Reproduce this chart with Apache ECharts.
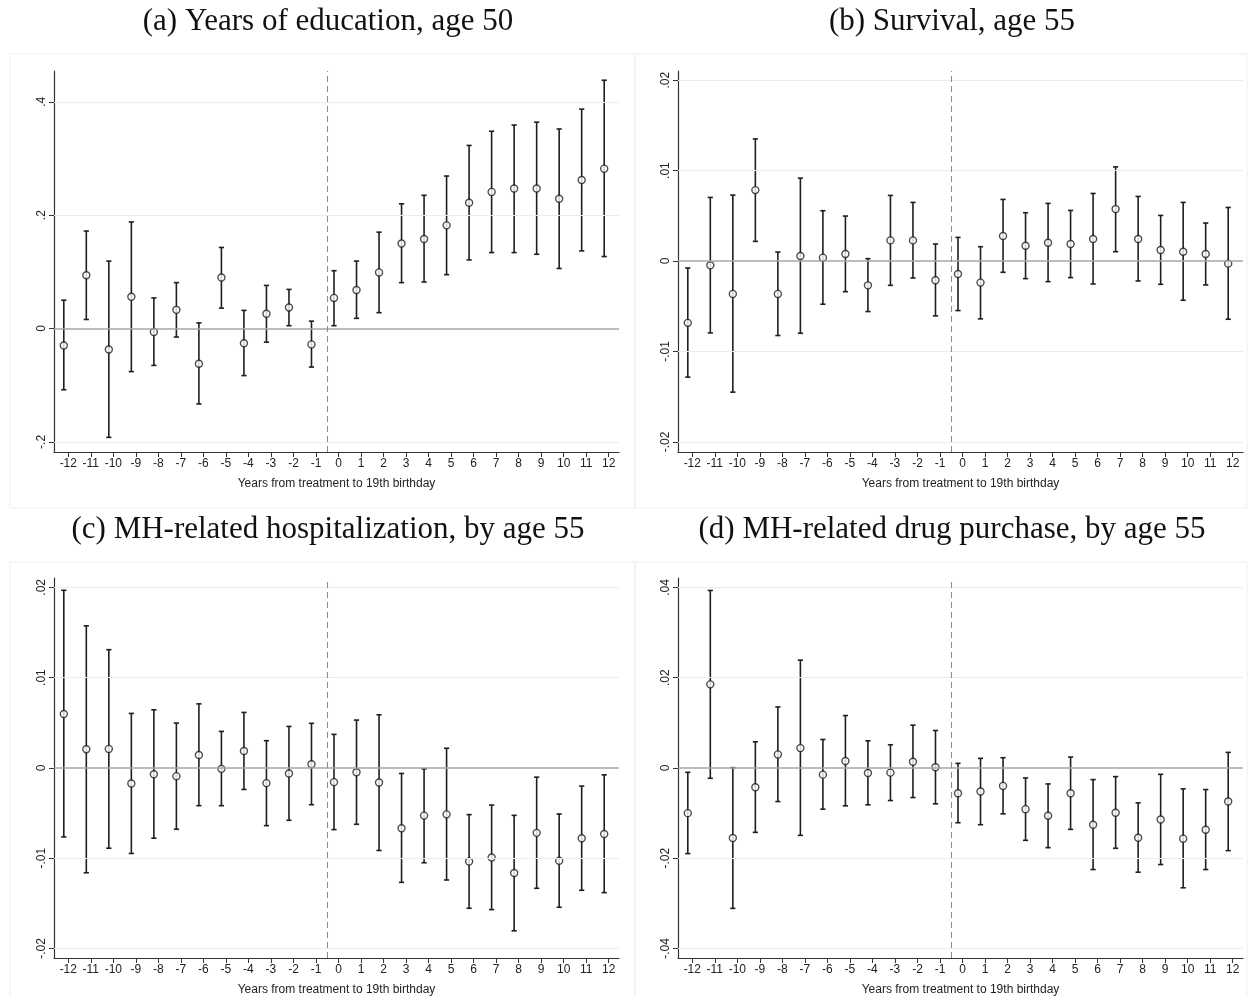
<!DOCTYPE html>
<html>
<head>
<meta charset="utf-8">
<script src="https://cdn.jsdelivr.net/npm/echarts@6/dist/echarts.min.js"></script>
<style>
  html, body { margin: 0; padding: 0; background: #fff; }
  #main { width: 1248px; height: 997px; }
</style>
</head>
<body>
<div id="main"></div>
<script>
// years relative to treatment
const years = [-12, -11, -10, -9, -8, -7, -6, -5, -4, -3, -2, -1, 0, 1, 2, 3, 4, 5, 6, 7, 8, 9, 10, 11, 12];

// (a) years of education, age 50
const eduCoef = [-0.030, 0.094, -0.037, 0.056, -0.006, 0.033, -0.062, 0.090, -0.026, 0.026, 0.037, -0.028,
  0.054, 0.068, 0.099, 0.150, 0.158, 0.182, 0.222, 0.241, 0.247, 0.247, 0.229, 0.262, 0.282];
const eduLo = [-0.108, 0.016, -0.192, -0.076, -0.065, -0.015, -0.133, 0.036, -0.083, -0.024, 0.005, -0.068,
  0.005, 0.018, 0.028, 0.081, 0.082, 0.095, 0.121, 0.134, 0.134, 0.131, 0.106, 0.137, 0.127];
const eduHi = [0.050, 0.172, 0.119, 0.188, 0.054, 0.081, 0.010, 0.143, 0.032, 0.076, 0.069, 0.013,
  0.102, 0.119, 0.170, 0.220, 0.235, 0.269, 0.323, 0.348, 0.359, 0.364, 0.352, 0.387, 0.438];

// (b) survival, age 55
const survCoef = [-0.00684, -0.00048, -0.00364, 0.00784, -0.00364, 0.00055, 0.00037, 0.00077, -0.00269, 0.00228, 0.00228, -0.00213,
  -0.00144, -0.00239, 0.00276, 0.00169, 0.00202, 0.00188, 0.00243, 0.00574, 0.00243, 0.00121, 0.00103, 0.00077, -0.00029];
const survLo = [-0.01284, -0.00795, -0.0145, 0.00217, -0.00824, -0.00799, -0.00478, -0.00339, -0.00559, -0.00269, -0.00188, -0.00607,
  -0.00548, -0.0064, -0.00125, -0.00195, -0.00228, -0.00184, -0.00254, 0.00103, -0.00221, -0.00258, -0.00434, -0.00265, -0.00644];
const survHi = [-0.00077, 0.00703, 0.00729, 0.0135, 0.00099, 0.00916, 0.00556, 0.00497, 0.00026, 0.00725, 0.00648, 0.00188,
  0.00261, 0.00158, 0.00681, 0.00534, 0.00637, 0.00559, 0.00747, 0.01041, 0.00714, 0.00504, 0.00648, 0.0042, 0.00592];

// (c) MH-related hospitalization, by age 55
const hospCoef = [0.00596, 0.00206, 0.00210, -0.00173, -0.0007, -0.00092, 0.00143, -0.00011, 0.00187, -0.00169, -0.00062, 0.0004,
  -0.00158, -0.00048, -0.00162, -0.00669, -0.00529, -0.00515, -0.01037, -0.00993, -0.01165, -0.0072, -0.01029, -0.00779, -0.00732];
const hospLo = [-0.00765, -0.01162, -0.0089, -0.00948, -0.00779, -0.0068, -0.00419, -0.00419, -0.00239, -0.0064, -0.00581, -0.00408,
  -0.00684, -0.00625, -0.00915, -0.01268, -0.01051, -0.01242, -0.01555, -0.0157, -0.01805, -0.01334, -0.01544, -0.01356, -0.01382];
const hospHi = [0.01967, 0.01573, 0.01309, 0.00603, 0.00643, 0.00496, 0.00709, 0.00404, 0.00614, 0.00301, 0.00459, 0.00493,
  0.00371, 0.00529, 0.00588, -0.00062, -0.00011, 0.00217, -0.00518, -0.00412, -0.00526, -0.00103, -0.00511, -0.00202, -0.00077];

// (d) MH-related drug purchase, by age 55
const drugCoef = [-0.0100, 0.01853, -0.01551, -0.00426, 0.00301, 0.00441, -0.00147, 0.00154, -0.0011, -0.00103, 0.0014, 0.00015,
  -0.00559, -0.00522, -0.00397, -0.00912, -0.01059, -0.00559, -0.01257, -0.00993, -0.01544, -0.0114, -0.01566, -0.01368, -0.00743];
const drugLo = [-0.01897, -0.00228, -0.0311, -0.01426, -0.00743, -0.01493, -0.00912, -0.00838, -0.00816, -0.00721, -0.00654, -0.00794,
  -0.01213, -0.01257, -0.01015, -0.01603, -0.01765, -0.0136, -0.0225, -0.01779, -0.02309, -0.0214, -0.02654, -0.0225, -0.01831];
const drugHi = [-0.00096, 0.03934, 0.00007, 0.00581, 0.01353, 0.0239, 0.00632, 0.01162, 0.00603, 0.00515, 0.00949, 0.00831,
  0.00103, 0.00213, 0.00228, -0.00221, -0.00353, 0.00243, -0.00257, -0.00191, -0.00772, -0.0014, -0.00463, -0.00478, 0.00346];

// y tick labels
const eduTicks = [-0.2, 0, 0.2, 0.4];
const survTicks = [-0.02, -0.01, 0, 0.01, 0.02];
const hospTicks = [-0.02, -0.01, 0, 0.01, 0.02];
const drugTicks = [-0.04, -0.02, 0, 0.02, 0.04];

const titles = ['(a) Years of education, age 50', '(b) Survival, age 55',
  '(c) MH-related hospitalization, by age 55', '(d) MH-related drug purchase, by age 55'];
const xName = 'Years from treatment to 19th birthday';

const panels = [
  { coef: eduCoef, lo: eduLo, hi: eduHi, ticks: eduTicks, min: -0.2178, max: 0.4543 },
  { coef: survCoef, lo: survLo, hi: survHi, ticks: survTicks, min: -0.02112, max: 0.02101 },
  { coef: hospCoef, lo: hospLo, hi: hospHi, ticks: hospTicks, min: -0.02106, max: 0.02103 },
  { coef: drugCoef, lo: drugLo, hi: drugHi, ticks: drugTicks, min: -0.0421, max: 0.0421 }
];

const chart = echarts.init(document.getElementById('main'));

const gridPos = [
  { left: 54, top: 71, width: 565, height: 381 },
  { left: 678, top: 71, width: 565, height: 381 },
  { left: 54, top: 578, width: 565, height: 382 },
  { left: 678, top: 578, width: 565, height: 382 }
];
const titlePos = [[323, 1], [947, 1], [323, 509], [947, 509]];
const shift = -0.2; // markers sit a bit left of each tick

const stataFmt = v => String(v).replace(/^(-?)0\./, '$1.');

function renderBar(params, api) {
  const x = api.value(0);
  const pLo = api.coord([x, api.value(1)]);
  const pHi = api.coord([x, api.value(2)]);
  const w = 2.6;
  const st = { stroke: '#1e1e1e', lineWidth: 1.6 };
  return {
    type: 'group',
    children: [
      { type: 'line', shape: { x1: pLo[0], y1: pLo[1], x2: pHi[0], y2: pHi[1] }, style: st },
      { type: 'line', shape: { x1: pLo[0] - w, y1: pLo[1], x2: pLo[0] + w, y2: pLo[1] }, style: st },
      { type: 'line', shape: { x1: pHi[0] - w, y1: pHi[1], x2: pHi[0] + w, y2: pHi[1] }, style: st }
    ]
  };
}

const grid = [], xAxis = [], yAxis = [], series = [], title = [];

panels.forEach((p, i) => {
  grid.push(gridPos[i]);
  title.push({
    text: titles[i], left: titlePos[i][0], top: titlePos[i][1], textAlign: 'center',
    textStyle: { fontFamily: 'Liberation Serif', fontWeight: 'normal', fontSize: 31, color: '#111' }
  });
  xAxis.push({
    type: 'value', gridIndex: i, min: -12.635, max: 12.457,
    name: xName, nameLocation: 'middle', nameGap: 26,
    nameTextStyle: { fontFamily: 'Liberation Sans', fontSize: 12, color: '#222' },
    axisLine: { show: true, onZero: false, lineStyle: { color: '#333', width: 1.2 } },
    axisTick: { show: true, length: 5, customValues: years, lineStyle: { color: '#333' } },
    axisLabel: { customValues: years, margin: 6, fontFamily: 'Liberation Sans', fontSize: 12, color: '#222' },
    splitLine: { show: false }
  });
  yAxis.push({
    type: 'value', gridIndex: i, min: p.min, max: p.max,
    axisLine: { show: true, onZero: false, lineStyle: { color: '#333', width: 1.2 } },
    axisTick: { show: true, length: 5, customValues: p.ticks, lineStyle: { color: '#333' } },
    axisLabel: {
      customValues: p.ticks, rotate: 90, margin: 6, formatter: stataFmt,
      fontFamily: 'Liberation Sans', fontSize: 12, color: '#222'
    },
    splitLine: { show: false }
  });
  // grid lines, zero line and the treatment cut
  series.push({
    type: 'line', xAxisIndex: i, yAxisIndex: i, data: [], silent: true, z: 1,
    markLine: {
      silent: true, symbol: 'none', label: { show: false }, animation: false,
      data: p.ticks.map(t => ({
        yAxis: t,
        lineStyle: t === 0 ? { color: '#a6a6a6', width: 1.5, type: 'solid' } : { color: '#e6eef0', width: 1.2, type: 'solid' }
      })).concat([{ xAxis: -0.5, lineStyle: { color: '#8c8c8c', width: 1.1, type: [6, 4] } }])
    }
  });
  series.push({
    type: 'custom', xAxisIndex: i, yAxisIndex: i, z: 3,
    renderItem: renderBar,
    encode: { x: 0, y: [1, 2] },
    data: years.map((yr, k) => [yr + shift, p.lo[k], p.hi[k]])
  });
  series.push({
    type: 'scatter', xAxisIndex: i, yAxisIndex: i, z: 4,
    symbol: 'circle', symbolSize: 7,
    itemStyle: { color: '#fff', borderColor: '#1e1e1e', borderWidth: 1.4 },
    data: years.map((yr, k) => [yr + shift, p.coef[k]])
  });
});

const frames = [[10, 54, 625, 454], [635, 54, 612, 454], [10, 562, 625, 440], [635, 562, 612, 440]];

chart.setOption({
  animation: false,
  backgroundColor: '#fff',
  title: title,
  grid: grid,
  xAxis: xAxis,
  yAxis: yAxis,
  series: series,
  graphic: frames.map(f => ({
    type: 'rect', silent: true, z: -1,
    shape: { x: f[0], y: f[1], width: f[2], height: f[3] },
    style: { fill: 'none', stroke: '#efefef', lineWidth: 1 }
  }))
});
</script>
</body>
</html>
